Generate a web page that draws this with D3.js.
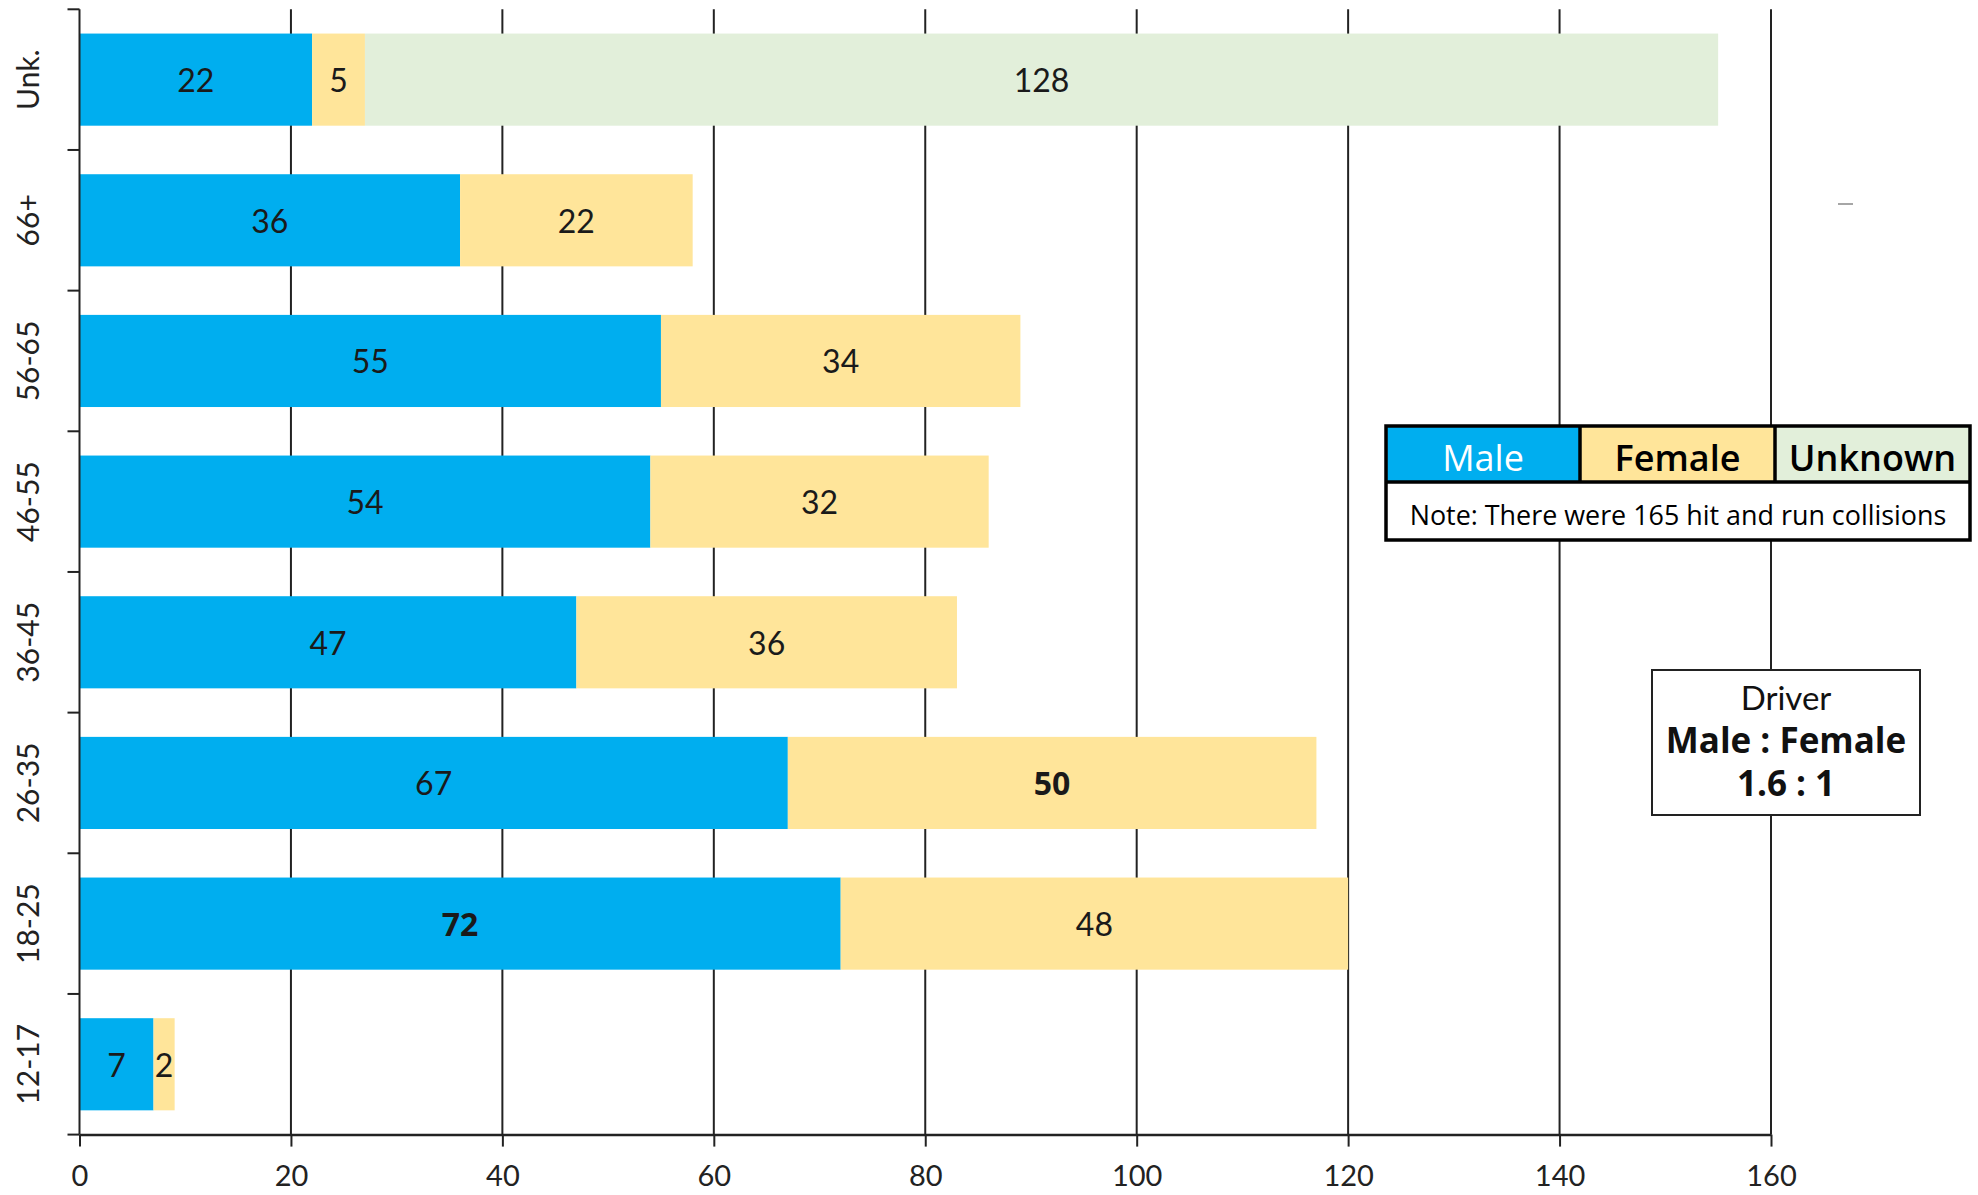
<!DOCTYPE html>
<html>
<head>
<meta charset="utf-8">
<script src="https://cdn.jsdelivr.net/npm/d3@7"></script>
<style>
  html, body { margin: 0; padding: 0; background: #fff; }
  svg { display: block; }
</style>
</head>
<body>
<svg id="chart" width="1978" height="1195"></svg>
<script>
// ---- data ----
const categories = ["Unk.", "66+", "56-65", "46-55", "36-45", "26-35", "18-25", "12-17"];
const male = [22, 36, 55, 54, 47, 67, 72, 7];
const female = [5, 22, 34, 32, 36, 50, 48, 2];
const unknown = [128, 0, 0, 0, 0, 0, 0, 0];
const seriesNames = ["Male", "Female", "Unknown"];
const xTicks = [0, 20, 40, 60, 80, 100, 120, 140, 160];
const noteText = "Note: There were 165 hit and run collisions";
const ratioLines = ["Driver", "Male : Female", "1.6 : 1"];

const colors = { Male: "#00AEEF", Female: "#FFE59A", Unknown: "#E2EFDA" };
const legendTextColors = { Male: "#ffffff", Female: "#000000", Unknown: "#000000" };

const svg = d3.select("#chart");

const x = d3.scaleLinear().domain([0, 160]).range([79.5, 1771]);
const y = d3.scaleBand().domain(categories).range([9.3, 1134.6])
  .paddingInner(0.345).paddingOuter(0.1725);

const axisFont = "Lato, 'Noto Sans', sans-serif";
const lineColor = "#222";

// gridlines
const grid = svg.append("g");
grid.selectAll("line").data(xTicks.filter(d => d > 0)).join("line")
  .attr("x1", d => x(d)).attr("x2", d => x(d))
  .attr("y1", y.range()[0]).attr("y2", y.range()[1])
  .attr("stroke", lineColor).attr("stroke-width", 2);

// stacked data
const rows = categories.map((c, i) => ({ cat: c, Male: male[i], Female: female[i], Unknown: unknown[i] }));
const stack = d3.stack().keys(seriesNames)(rows);
const maxMale = d3.max(male), maxFemale = d3.max(female);
const isBold = (key, v) => (key === "Male" && v === maxMale) || (key === "Female" && v === maxFemale);

const barsG = svg.append("g");
stack.forEach(layer => {
  const key = layer.key;
  barsG.selectAll(null).data(layer.filter(d => d[1] - d[0] > 0)).join("rect")
    .attr("x", d => x(d[0]))
    .attr("y", d => y(d.data.cat))
    .attr("width", d => x(d[1]) - x(d[0]))
    .attr("height", y.bandwidth())
    .attr("fill", colors[key]);
});

// labels
const labG = svg.append("g");
stack.forEach(layer => {
  const key = layer.key;
  labG.selectAll(null).data(layer.filter(d => d[1] - d[0] > 0)).join("text")
    .attr("x", d => (x(d[0]) + x(d[1])) / 2)
    .attr("y", d => y(d.data.cat) + y.bandwidth() / 2 + 1)
    .attr("dy", "0.36em")
    .attr("text-anchor", "middle")
    .attr("font-family", d => isBold(key, d[1] - d[0]) ? "'Open Sans', sans-serif" : axisFont)
    .attr("font-size", 32)
    .attr("font-weight", d => isBold(key, d[1] - d[0]) ? 700 : 400)
    .attr("fill", "#1a1a1a")
    .text(d => d[1] - d[0]);
});

// y axis line and ticks at band boundaries
const step = y.step();
const boundaries = categories.map(c => y(c) - step * y.paddingInner() / 2);
boundaries.push(y.range()[1]);
svg.append("line").attr("x1", x(0)).attr("x2", x(0))
  .attr("y1", y.range()[0]).attr("y2", y.range()[1])
  .attr("stroke", lineColor).attr("stroke-width", 2);
svg.append("g").selectAll("line").data(boundaries).join("line")
  .attr("x1", x(0) - 12).attr("x2", x(0))
  .attr("y1", d => d).attr("y2", d => d)
  .attr("stroke", lineColor).attr("stroke-width", 2);

svg.append("g").selectAll("text").data(categories).join("text")
  .attr("transform", d => `translate(28,${y(d) + y.bandwidth() / 2}) rotate(-90)`)
  .attr("text-anchor", "middle")
  .attr("dy", "0.36em")
  .attr("font-family", axisFont)
  .attr("font-size", 30)
  .attr("fill", "#222")
  .text(d => d);

// x axis
const xAxis = d3.axisBottom(x).tickValues(xTicks).tickSize(12).tickSizeOuter(0).tickPadding(19);
const xg = svg.append("g").attr("transform", `translate(0,${y.range()[1]})`).call(xAxis);
xg.select(".domain").attr("stroke", lineColor).attr("stroke-width", 2.5);
xg.selectAll(".tick line").attr("stroke", lineColor).attr("stroke-width", 2);
xg.selectAll(".tick text").attr("font-family", axisFont).attr("font-size", 29).attr("fill", "#222");

// legend table
const lg = svg.append("g");
const lx = [1386, 1580, 1775, 1970];
const ly0 = 426, ly1 = 482, ly2 = 540;
lg.append("rect").attr("x", lx[0]).attr("y", ly1).attr("width", lx[3] - lx[0]).attr("height", ly2 - ly1)
  .attr("fill", "#fff");
seriesNames.forEach((s, i) => {
  lg.append("rect").attr("x", lx[i]).attr("y", ly0).attr("width", lx[i + 1] - lx[i]).attr("height", ly1 - ly0)
    .attr("fill", colors[s]);
  lg.append("text").attr("x", (lx[i] + lx[i + 1]) / 2).attr("y", (ly0 + ly1) / 2 + 4)
    .attr("dy", "0.36em").attr("text-anchor", "middle")
    .attr("font-family", "'Open Sans', 'Noto Sans', sans-serif")
    .attr("font-size", 36).attr("font-weight", s === "Male" ? 400 : 600)
    .attr("fill", legendTextColors[s]).text(s);
});
// borders
lg.append("rect").attr("x", lx[0]).attr("y", ly0).attr("width", lx[3] - lx[0]).attr("height", ly2 - ly0)
  .attr("fill", "none").attr("stroke", "#000").attr("stroke-width", 3.5);
lg.append("line").attr("x1", lx[0]).attr("x2", lx[3]).attr("y1", ly1).attr("y2", ly1)
  .attr("stroke", "#000").attr("stroke-width", 3.5);
[1, 2].forEach(i => lg.append("line").attr("x1", lx[i]).attr("x2", lx[i]).attr("y1", ly0).attr("y2", ly1)
  .attr("stroke", "#000").attr("stroke-width", 3.5));
const note = lg.append("text").attr("x", (lx[0] + lx[3]) / 2).attr("y", (ly1 + ly2) / 2 + 4)
  .attr("dy", "0.36em").attr("text-anchor", "middle")
  .attr("font-family", "'Open Sans', 'Noto Sans', sans-serif")
  .attr("font-size", 24).attr("fill", "#000").text(noteText);
{
  const target = 537;
  const w = note.node().getComputedTextLength();
  note.attr("font-size", 24 * target / w);
}

// ratio box
const rb = svg.append("g");
rb.append("rect").attr("x", 1652).attr("y", 670).attr("width", 268).attr("height", 145)
  .attr("fill", "#fff").attr("stroke", "#222").attr("stroke-width", 2);
const rys = [698, 740, 783];
ratioLines.forEach((t, i) => {
  rb.append("text").attr("x", 1786).attr("y", rys[i]).attr("dy", "0.36em")
    .attr("text-anchor", "middle")
    .attr("font-family", i === 0 ? axisFont : "'Open Sans', 'Noto Sans', sans-serif")
    .attr("font-size", i === 0 ? 33 : 35)
    .attr("font-weight", i === 0 ? 400 : 700)
    .attr("fill", "#111").text(t);
});

// small stray dash
svg.append("line").attr("x1", 1838).attr("x2", 1853).attr("y1", 204).attr("y2", 204)
  .attr("stroke", "#888").attr("stroke-width", 1.5);
</script>
</body>
</html>
